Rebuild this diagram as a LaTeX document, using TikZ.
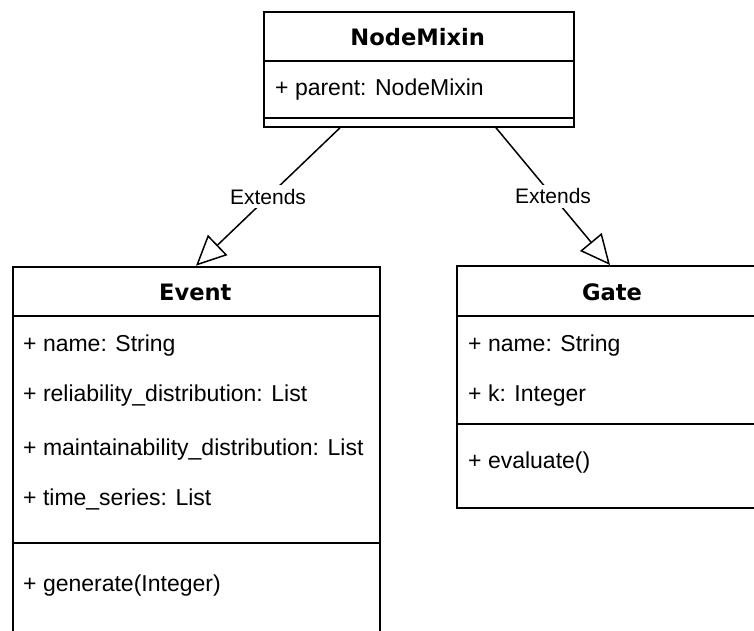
\documentclass[tikz,border=0pt]{standalone}
\usepackage{fontspec}
\setmainfont{Liberation Sans}
\newfontfamily\titlefont{DejaVu Sans}
\usetikzlibrary{arrows.meta}
\tikzset{
  umlbox/.style={draw=black, line width=1.8pt, rectangle, anchor=north west, inner sep=0pt},
  divider/.style={draw=black, line width=1.8pt},
  ttl/.style={anchor=base, font=\titlefont\bfseries\fontsize{22.6}{26}\selectfont, inner sep=0pt},
  attr/.style={anchor=base west, font=\fontsize{23}{27}\selectfont, inner sep=0pt},
  ext/.style={draw=black, line width=1.5pt, -{Triangle[open, length=30pt, width=28pt, line width=1.5pt]}},
  lbl/.style={fill=white, font=\fontsize{21}{24}\selectfont, inner xsep=1pt, inner ysep=4pt}
}
\begin{document}
\begin{tikzpicture}[x=1pt, y=-1pt]
\useasboundingbox (0,0) rectangle (754,630);
\clip (0,0) rectangle (754,630);
\fill[white] (0,0) rectangle (754,630);
% NodeMixin
\node[umlbox, minimum width=310pt, minimum height=115.3pt] (nm) at (262.7,10.7) {};
\draw[divider] (262.7,60.7) -- (572.7,60.7);
\draw[divider] (262.7,118.3) -- (572.7,118.3);
\node[ttl] (nmt) at (417.7,45) {NodeMixin};
\node[attr] (nma) at (275,95) {+ parent: NodeMixin};
% Event
\node[umlbox, minimum width=367.3pt, minimum height=380pt] (ev) at (11.7,265.7) {};
\draw[divider] (11.7,316) -- (379,316);
\draw[divider] (11.7,543.3) -- (379,543.3);
\node[ttl] (evt) at (195.3,300.7) {Event};
\node[attr] (ev1) at (23,351.5) {+ name: String};
\node[attr] (ev2) at (23,401.5) {+ reliability\_distribution: List};
\node[attr] (ev3) at (23,455.5) {+ maintainability\_distribution: List};
\node[attr] (ev4) at (23,505.5) {+ time\_series: List};
\node[attr] (ev5) at (23,591.5) {+ generate(Integer)};
% Gate
\node[umlbox, minimum width=312pt, minimum height=242pt] (gt) at (456,265) {};
\draw[divider] (456,316) -- (768,316);
\draw[divider] (456,424) -- (768,424);
\node[ttl] (gtt) at (612,300.3) {Gate};
\node[attr] (gt1) at (468,351.5) {+ name: String};
\node[attr] (gt2) at (468,401.5) {+ k: Integer};
\node[attr] (gt3) at (468,468.3) {+ evaluate()};
% connectors
\draw[ext] ([xshift=77.3pt]nm.south west) -- node[lbl] {Extends} ([xshift=184.3pt]ev.north west);
\draw[ext] ([xshift=233.3pt]nm.south west) -- node[lbl] {Extends} ([xshift=154pt]gt.north west);
\end{tikzpicture}
\end{document}
